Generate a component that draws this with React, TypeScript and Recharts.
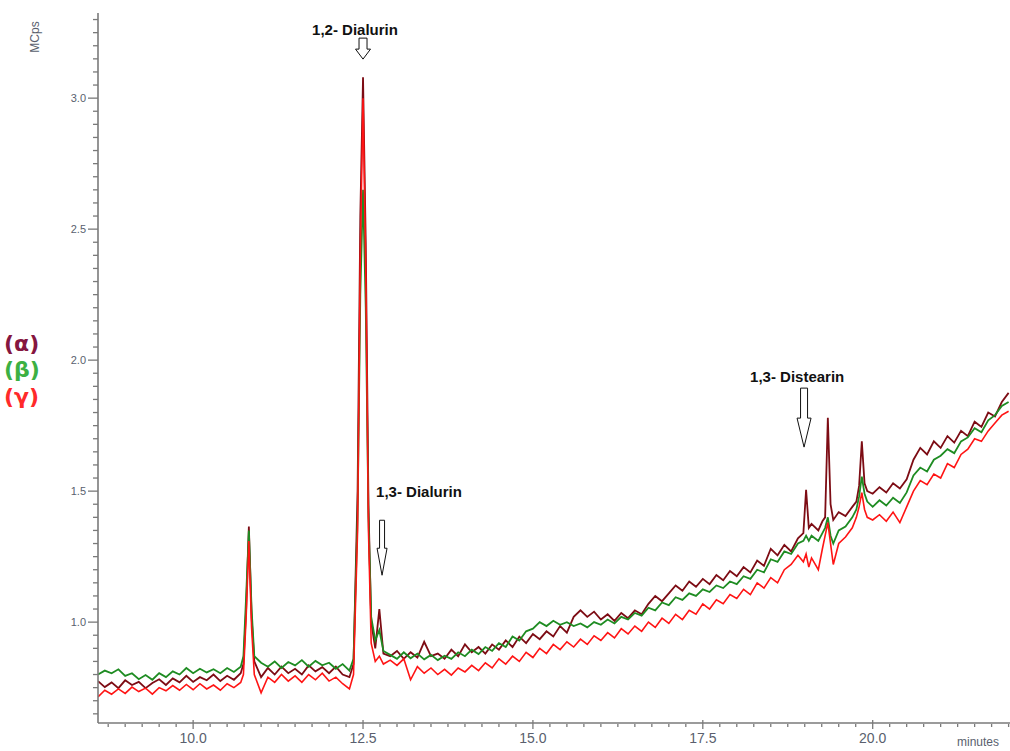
import React from 'react';
import { LineChart, Line, XAxis, YAxis, ReferenceDot } from 'recharts';

// retention time (minutes)
const times = [
  8.6, 8.7, 8.8, 8.9, 9.0, 9.1, 9.2, 9.3, 9.4, 9.5,
  9.6, 9.7, 9.8, 9.9, 10.0, 10.1, 10.2, 10.3, 10.4, 10.5,
  10.6, 10.7, 10.74, 10.78, 10.82, 10.86, 10.9, 11.0, 11.1, 11.2,
  11.3, 11.4, 11.5, 11.6, 11.7, 11.8, 11.9, 12.0, 12.1, 12.2,
  12.3, 12.36, 12.42, 12.46, 12.5, 12.54, 12.58, 12.62, 12.68, 12.74,
  12.8, 12.9, 13.0, 13.1, 13.2, 13.3, 13.4, 13.5, 13.6, 13.7,
  13.8, 13.9, 14.0, 14.1, 14.2, 14.3, 14.4, 14.5, 14.6, 14.7,
  14.8, 14.9, 15.0, 15.1, 15.2, 15.3, 15.4, 15.5, 15.6, 15.7,
  15.8, 15.9, 16.0, 16.1, 16.2, 16.3, 16.4, 16.5, 16.6, 16.7,
  16.8, 16.9, 17.0, 17.1, 17.2, 17.3, 17.4, 17.5, 17.6, 17.7,
  17.8, 17.9, 18.0, 18.1, 18.2, 18.3, 18.4, 18.5, 18.6, 18.7,
  18.8, 18.9, 18.98, 19.02, 19.06, 19.1, 19.2, 19.26, 19.3, 19.34,
  19.38, 19.42, 19.5, 19.6, 19.7, 19.76, 19.8, 19.84, 19.88, 19.92,
  20.0, 20.1, 20.2, 20.3, 20.4, 20.5, 20.6, 20.7, 20.8, 20.9,
  21.0, 21.1, 21.2, 21.3, 21.4, 21.5, 21.6, 21.7, 21.8, 21.9,
  22.0,
];

// (α) signal, MCps
const alpha = [
  0.775, 0.752, 0.770, 0.748, 0.778, 0.760, 0.772, 0.748, 0.768, 0.782,
  0.760, 0.785, 0.770, 0.795, 0.772, 0.790, 0.778, 0.800, 0.775, 0.795,
  0.780, 0.805, 0.840, 1.050, 1.365, 1.020, 0.850, 0.790, 0.825, 0.800,
  0.830, 0.805, 0.822, 0.800, 0.835, 0.812, 0.828, 0.805, 0.830, 0.800,
  0.790, 0.840, 1.500, 2.550, 3.080, 2.450, 1.450, 1.000, 0.900, 1.050,
  0.880, 0.870, 0.890, 0.860, 0.885, 0.865, 0.925, 0.870, 0.880, 0.860,
  0.895, 0.870, 0.915, 0.885, 0.905, 0.880, 0.915, 0.895, 0.930, 0.905,
  0.945, 0.920, 0.955, 0.935, 0.965, 0.945, 0.985, 0.960, 1.020, 1.045,
  1.020, 1.040, 1.010, 1.030, 1.005, 1.035, 1.015, 1.045, 1.030, 1.070,
  1.100, 1.080, 1.110, 1.140, 1.120, 1.155, 1.135, 1.165, 1.145, 1.180,
  1.160, 1.195, 1.175, 1.210, 1.190, 1.235, 1.215, 1.280, 1.255, 1.295,
  1.270, 1.320, 1.340, 1.505, 1.360, 1.375, 1.350, 1.385, 1.400, 1.780,
  1.450, 1.390, 1.420, 1.405, 1.440, 1.460, 1.520, 1.690, 1.530, 1.500,
  1.490, 1.515, 1.495, 1.530, 1.510, 1.545, 1.620, 1.665, 1.640, 1.690,
  1.665, 1.710, 1.685, 1.730, 1.710, 1.765, 1.745, 1.800, 1.785, 1.840,
  1.875,
];

// (β) signal, MCps
const beta = [
  0.800, 0.815, 0.805, 0.820, 0.795, 0.805, 0.782, 0.798, 0.780, 0.805,
  0.790, 0.812, 0.800, 0.825, 0.805, 0.822, 0.808, 0.820, 0.805, 0.825,
  0.810, 0.830, 0.870, 1.100, 1.350, 1.050, 0.870, 0.845, 0.830, 0.850,
  0.825, 0.848, 0.835, 0.855, 0.830, 0.852, 0.835, 0.845, 0.822, 0.840,
  0.815, 0.860, 1.400, 2.250, 2.650, 2.200, 1.400, 1.020, 0.930, 0.970,
  0.890, 0.875, 0.860, 0.885, 0.862, 0.880, 0.858, 0.875, 0.855, 0.872,
  0.860, 0.885, 0.870, 0.895, 0.878, 0.905, 0.890, 0.920, 0.905, 0.945,
  0.930, 0.965, 0.975, 1.000, 0.985, 1.005, 0.990, 1.000, 0.985, 0.995,
  0.980, 1.000, 0.990, 1.010, 0.995, 1.020, 1.010, 1.035, 1.025, 1.055,
  1.045, 1.075, 1.065, 1.095, 1.085, 1.110, 1.100, 1.125, 1.115, 1.140,
  1.130, 1.155, 1.145, 1.175, 1.165, 1.200, 1.190, 1.240, 1.230, 1.270,
  1.260, 1.300, 1.310, 1.330, 1.310, 1.330, 1.310, 1.340, 1.360, 1.400,
  1.330, 1.300, 1.350, 1.365, 1.400, 1.430, 1.480, 1.555, 1.490, 1.460,
  1.440, 1.465, 1.445, 1.475, 1.455, 1.495, 1.560, 1.590, 1.575, 1.620,
  1.635, 1.660, 1.645, 1.690, 1.705, 1.740, 1.725, 1.770, 1.790, 1.825,
  1.840,
];

// (γ) signal, MCps
const gamma = [
  0.715, 0.740, 0.725, 0.745, 0.728, 0.752, 0.735, 0.748, 0.725, 0.750,
  0.738, 0.758, 0.740, 0.762, 0.742, 0.765, 0.745, 0.760, 0.740, 0.765,
  0.750, 0.770, 0.800, 1.020, 1.310, 0.980, 0.800, 0.730, 0.790, 0.770,
  0.800, 0.775, 0.795, 0.770, 0.800, 0.780, 0.805, 0.775, 0.790, 0.765,
  0.745, 0.800, 1.350, 2.400, 3.000, 2.350, 1.350, 0.920, 0.850, 0.870,
  0.840, 0.855, 0.835, 0.860, 0.780, 0.830, 0.805, 0.825, 0.800, 0.820,
  0.798, 0.825, 0.810, 0.835, 0.815, 0.845, 0.825, 0.860, 0.840, 0.870,
  0.850, 0.885, 0.865, 0.900, 0.880, 0.915, 0.895, 0.925, 0.905, 0.935,
  0.915, 0.948, 0.930, 0.960, 0.940, 0.975, 0.955, 0.985, 0.965, 1.000,
  0.980, 1.015, 0.995, 1.030, 1.010, 1.045, 1.030, 1.070, 1.050, 1.085,
  1.070, 1.105, 1.090, 1.125, 1.105, 1.150, 1.130, 1.170, 1.150, 1.200,
  1.220, 1.255, 1.230, 1.260, 1.210, 1.245, 1.200, 1.280, 1.330, 1.380,
  1.300, 1.220, 1.300, 1.325, 1.360, 1.400, 1.440, 1.494, 1.430, 1.400,
  1.390, 1.410, 1.385, 1.420, 1.380, 1.440, 1.500, 1.540, 1.525, 1.565,
  1.550, 1.605, 1.590, 1.640, 1.660, 1.700, 1.690, 1.730, 1.760, 1.790,
  1.805,
];

const seriesLabels = ['(α)', '(β)', '(γ)'];
const xMajorTicks = [10.0, 12.5, 15.0, 17.5, 20.0];
const yMajorTicks = [1.0, 1.5, 2.0, 2.5, 3.0];
const annotationLabels = ['1,2- Dialurin', '1,3- Dialurin', '1,3- Distearin'];
const annotationTimes = [12.5, 12.78, 18.99];
const annotationValues = [3.149, 1.179, 1.668];

const X_DOMAIN: [number, number] = [8.6, 22.05];
const Y_DOMAIN: [number, number] = [0.615, 3.325];

const xMinorTicks: number[] = [];
for (let k = 35; k <= 88; k++) xMinorTicks.push(k * 0.25);
const yMinorTicks: number[] = [];
for (let k = 13; k <= 66; k++) yMinorTicks.push(Math.round(k * 5) / 100);

const data = times.map((t, i) => ({ t, a: alpha[i], b: beta[i], g: gamma[i] }));

const FONT = 'Liberation Sans, Arial, sans-serif';
const AXIS_COLOR = '#7a7a7a';
const LABEL_COLOR = '#5a5f6e';

const isMajor = (list: number[], v: number) => list.some((m) => Math.abs(m - v) < 1e-6);

const XTick = (props: any) => {
  const { x, y, payload } = props;
  const v = payload.value as number;
  const major = isMajor(xMajorTicks, v);
  return (
    <g>
      <line x1={x} x2={x} y1={major ? y - 3 : y + 1} y2={major ? y + 6 : y + 4} stroke={AXIS_COLOR} strokeWidth={1.3} />
      {major && (
        <text x={x} y={y + 20} textAnchor="middle" fontSize={14} fill={LABEL_COLOR} fontFamily={FONT}>
          {v.toFixed(1)}
        </text>
      )}
    </g>
  );
};

const YTick = (props: any) => {
  const { x, y, payload } = props;
  const v = payload.value as number;
  const major = isMajor(yMajorTicks, v);
  return (
    <g>
      <line x1={x - (major ? 10 : 5)} x2={x} y1={y} y2={y} stroke={AXIS_COLOR} strokeWidth={1.3} />
      {major && (
        <text x={x - 12} y={y} dy={4} textAnchor="end" fontSize={11} fill={LABEL_COLOR} fontFamily={FONT}>
          {v.toFixed(1)}
        </text>
      )}
    </g>
  );
};

const EmptyTick = () => <g />;

const arrowStyles = [
  { len: 21, head: 10, sw: 4, hw: 7.5, tx: -8, ty: -24, anchor: 'middle' },
  { len: 55, head: 27, sw: 2.5, hw: 5, tx: -6, ty: -78, anchor: 'start' },
  { len: 59, head: 29, sw: 3.5, hw: 7, tx: -54, ty: -65, anchor: 'start' },
];

const makeArrow = (idx: number) => (props: any) => {
  const { cx, cy } = props;
  const s = arrowStyles[idx];
  const pts = [
    [cx - s.sw, cy - s.len],
    [cx + s.sw, cy - s.len],
    [cx + s.sw, cy - s.head],
    [cx + s.hw, cy - s.head],
    [cx, cy],
    [cx - s.hw, cy - s.head],
    [cx - s.sw, cy - s.head],
  ]
    .map((p) => p.join(','))
    .join(' ');
  return (
    <g>
      <polygon points={pts} fill="#fff" stroke="#111" strokeWidth={1} />
      <text x={cx + s.tx} y={cy + s.ty} textAnchor={s.anchor as any} fontSize={15} fontWeight="bold" fill="#111" fontFamily={FONT}>
        {annotationLabels[idx]}
      </text>
    </g>
  );
};

const legendColors = ['#851640', '#3cb043', '#ff2a2a'];
const legendCenters = [344, 370, 397];

export default function App() {
  return (
    <div
      style={{
        position: 'absolute',
        left: 0,
        top: 0,
        width: 1010,
        height: 751,
        overflow: 'hidden',
        background: '#fff',
        fontFamily: FONT,
      }}
    >
      <LineChart width={1030} height={751} data={data} margin={{ top: 13, right: 18, left: 0, bottom: 0 }}>
        <XAxis
          dataKey="t"
          type="number"
          domain={X_DOMAIN}
          allowDataOverflow
          ticks={xMinorTicks}
          interval={0}
          tick={(p: any) => <XTick {...p} />}
          tickLine={false}
          tickSize={0}
          tickMargin={0}
          height={28}
          axisLine={{ stroke: AXIS_COLOR, strokeWidth: 1.6 }}
        />
        <YAxis
          yAxisId="l"
          type="number"
          domain={Y_DOMAIN}
          allowDataOverflow
          ticks={yMinorTicks}
          interval={0}
          tick={(p: any) => <YTick {...p} />}
          tickLine={false}
          tickSize={0}
          tickMargin={0}
          width={98}
          axisLine={{ stroke: AXIS_COLOR, strokeWidth: 1.6 }}
        />
        <YAxis
          yAxisId="r"
          orientation="right"
          mirror
          type="number"
          domain={Y_DOMAIN}
          allowDataOverflow
          ticks={yMajorTicks}
          interval={0}
          tick={EmptyTick}
          tickLine={{ stroke: '#888', strokeWidth: 1.3 }}
          tickSize={5}
          width={0}
          axisLine={false}
        />
        <Line yAxisId="l" type="linear" dataKey="a" name={seriesLabels[0]} stroke="#7d0c14" strokeWidth={1.8} dot={false} isAnimationActive={false} />
        <Line yAxisId="l" type="linear" dataKey="b" name={seriesLabels[1]} stroke="#1e8c22" strokeWidth={1.8} dot={false} isAnimationActive={false} />
        <Line yAxisId="l" type="linear" dataKey="g" name={seriesLabels[2]} stroke="#ff1414" strokeWidth={1.6} dot={false} isAnimationActive={false} />
        {annotationLabels.map((lbl, i) => (
          <ReferenceDot
            key={lbl}
            yAxisId="l"
            x={annotationTimes[i]}
            y={annotationValues[i]}
            r={0}
            ifOverflow="visible"
            shape={makeArrow(i)}
          />
        ))}
      </LineChart>

      <div
        style={{
          position: 'absolute',
          left: 35,
          top: 37,
          transform: 'translate(-50%, -50%) rotate(-90deg)',
          fontSize: 12,
          color: LABEL_COLOR,
          whiteSpace: 'nowrap',
        }}
      >
        MCps
      </div>
      <div
        style={{
          position: 'absolute',
          left: 957,
          top: 735,
          fontSize: 12,
          lineHeight: '14px',
          color: LABEL_COLOR,
          whiteSpace: 'nowrap',
        }}
      >
        minutes
      </div>
      {seriesLabels.map((s, i) => (
        <div
          key={s}
          style={{
            position: 'absolute',
            left: 4,
            top: legendCenters[i] - 14,
            fontSize: 22,
            lineHeight: '28px',
            fontWeight: 'bold',
            fontFamily: 'DejaVu Sans, sans-serif',
            color: legendColors[i],
            whiteSpace: 'nowrap',
          }}
        >
          {s}
        </div>
      ))}
    </div>
  );
}
